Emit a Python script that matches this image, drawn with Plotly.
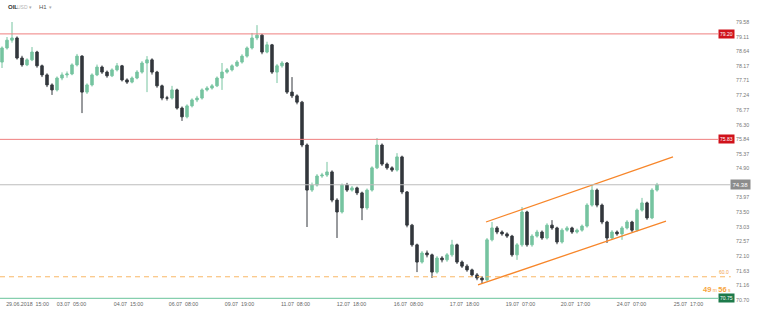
import plotly.graph_objects as go

# ---- data ----
first_open = 78.30
closes = [78.75, 79.00, 79.07, 78.43, 78.21, 78.37, 78.62, 78.18, 77.89, 77.57,
          77.41, 77.79, 77.89, 77.92, 78.21, 78.49, 77.34, 77.57, 77.89, 78.14,
          77.98, 77.86, 78.05, 78.18, 77.73, 77.66, 77.79, 77.98, 78.27, 78.37,
          77.98, 77.54, 77.15, 77.15, 77.41, 76.83, 76.55, 76.90, 77.09, 77.15,
          77.41, 77.47, 77.54, 77.79, 77.98, 78.05, 78.18, 78.30, 78.49, 78.75,
          79.07, 79.16, 78.62, 78.85, 77.98, 78.18, 78.27, 77.34, 77.22, 77.02,
          75.65, 74.21, 74.37, 74.66, 74.69, 74.79, 73.89, 73.51, 74.37, 74.21,
          74.28, 74.12, 73.64, 74.21, 74.92, 75.65, 75.04, 74.92, 74.85, 75.27,
          74.15, 73.09, 72.46, 71.91, 72.20, 72.14, 71.59, 72.04, 71.98, 72.14,
          72.46, 71.91, 71.78, 71.66, 71.50, 71.40, 71.34, 72.62, 73.00, 72.87,
          72.81, 72.74, 72.14, 72.46, 73.51, 72.46, 72.74, 72.87, 72.68, 73.09,
          73.00, 72.55, 72.93, 73.00, 72.87, 72.93, 73.06, 73.73, 74.21, 73.73,
          73.19, 72.68, 72.87, 72.81, 73.00, 73.19, 72.93, 73.57, 73.80, 73.32,
          74.21, 74.38]
highs = [78.80, 79.10, 79.58, 79.12, 78.50, 78.42, 78.78, 78.66, 78.22, 77.94,
         77.62, 77.84, 77.97, 78.00, 78.26, 78.56, 78.52, 77.62, 77.94, 78.22,
         78.19, 78.03, 78.10, 78.27, 78.21, 77.78, 77.84, 78.04, 78.33, 78.49,
         78.42, 78.02, 77.58, 77.22, 77.54, 77.45, 76.88, 76.95, 77.14, 77.22,
         77.46, 77.53, 77.60, 77.84, 78.27, 78.11, 78.23, 78.36, 78.55, 78.80,
         79.23, 79.48, 79.20, 78.95, 78.88, 78.24, 78.33, 78.30, 77.82, 77.27,
         77.06, 75.70, 74.45, 74.72, 74.76, 75.11, 74.84, 73.95, 74.42, 74.44,
         74.34, 74.32, 74.16, 74.26, 74.97, 75.87, 75.70, 75.09, 74.97, 75.39,
         75.31, 74.18, 73.13, 72.50, 72.26, 72.28, 72.18, 72.10, 72.10, 72.20,
         72.62, 72.50, 71.96, 71.84, 71.70, 71.56, 71.46, 72.68, 73.19, 73.06,
         72.92, 72.86, 72.78, 72.52, 73.67, 73.55, 72.80, 72.94, 72.92, 73.15,
         73.25, 73.04, 72.99, 73.06, 73.04, 72.98, 73.11, 73.79, 74.37, 74.26,
         73.78, 73.23, 72.93, 72.92, 73.06, 73.25, 73.23, 73.62, 73.96, 73.84,
         74.27, 74.44]
lows = [78.11, 78.70, 78.92, 78.38, 78.15, 78.17, 78.33, 78.12, 77.82, 77.50,
        77.25, 77.36, 77.72, 77.80, 77.88, 78.16, 76.67, 77.28, 77.52, 77.85,
        77.92, 77.80, 77.82, 78.00, 77.68, 77.60, 77.62, 77.75, 77.93, 77.34,
        77.90, 77.48, 77.08, 77.07, 77.10, 76.78, 76.42, 76.50, 76.85, 77.02,
        77.10, 77.36, 77.42, 77.50, 77.41, 77.93, 78.00, 78.14, 78.25, 78.44,
        78.70, 79.00, 78.55, 78.58, 77.92, 77.63, 78.12, 77.28, 77.15, 76.95,
        75.58, 73.03, 74.15, 74.32, 74.60, 74.63, 73.82, 72.68, 73.46, 74.15,
        74.16, 74.05, 73.25, 73.58, 74.16, 74.88, 74.98, 74.86, 74.79, 74.80,
        74.08, 73.02, 72.40, 71.59, 71.86, 72.06, 71.40, 71.54, 71.90, 71.92,
        72.08, 71.85, 71.72, 71.60, 71.44, 71.33, 71.21, 71.30, 72.57, 72.80,
        72.75, 72.68, 72.08, 71.98, 72.40, 72.40, 72.40, 72.69, 72.62, 72.63,
        72.94, 72.48, 72.50, 72.88, 72.81, 72.82, 72.88, 73.01, 73.68, 73.66,
        73.12, 72.52, 72.63, 72.75, 72.62, 72.95, 72.87, 72.88, 73.52, 73.26,
        73.28, 74.16]

tick_pos = [5.1, 13.9, 25.3, 36.3, 47.5, 58.7, 69.9, 81.3, 92.5, 103.7, 114.7, 125.9, 137.3]
tick_labels = ["29.06.2018  15:00", "03.07  05:00", "04.07  15:00", "06.07  08:00",
               "09.07  19:00", "11.07  08:00", "12.07  18:00", "16.07  08:00",
               "17.07  18:00", "19.07  07:00", "20.07  17:00", "24.07  07:00",
               "25.07  17:00"]
price_ticks = [79.58, 79.11, 78.64, 78.17, 77.71, 77.24, 76.77, 76.30, 75.84, 75.37,
               74.90, 74.44, 73.97, 73.50, 73.03, 72.57, 72.10, 71.63, 71.16, 70.70]

resistance_levels = [79.20, 75.83]
current_price = 74.38
fib_level = 71.44
bottom_level = 70.75
upper_channel_x = [96.8, 134.2]
upper_channel_y = [73.19, 75.27]
lower_channel_x = [95.2, 132.8]
lower_channel_y = [71.18, 73.22]

# ---- build ----
opens = [first_open] + closes[:-1]
xs = list(range(len(closes)))

FONT = "Liberation Sans, Arial, sans-serif"
fig = go.Figure()

fig.add_trace(go.Candlestick(
    x=xs, open=opens, high=highs, low=lows, close=closes,
    increasing=dict(line=dict(color="#76c4a0", width=1), fillcolor="#76c4a0"),
    decreasing=dict(line=dict(color="#32373c", width=1), fillcolor="#32373c"),
    whiskerwidth=0, showlegend=False, hoverinfo="skip"))

for cx, cy in [(upper_channel_x, upper_channel_y), (lower_channel_x, lower_channel_y)]:
    fig.add_trace(go.Scatter(x=cx, y=cy, mode="lines",
                             line=dict(color="#f7862a", width=1.3),
                             showlegend=False, hoverinfo="skip"))

shapes = []
annotations = []
for lvl in resistance_levels:
    shapes.append(dict(type="line", xref="paper", yref="y", x0=0, x1=0.9795,
                       y0=lvl, y1=lvl, line=dict(color="#ef7f7f", width=1)))
    annotations.append(dict(xref="paper", yref="y", x=0.9795, y=lvl, xanchor="left",
                            yanchor="middle", text=f"{lvl:.2f}", showarrow=False,
                            font=dict(family=FONT, size=5, color="white"),
                            bgcolor="#d0121b", borderpad=1))
# current price
shapes.append(dict(type="line", xref="paper", yref="y", x0=0, x1=0.996,
                   y0=current_price, y1=current_price, line=dict(color="#bdbdbd", width=1)))
annotations.append(dict(xref="paper", yref="y", x=0.996, y=current_price, xanchor="left",
                        yanchor="middle", text=f"{current_price:.2f}", showarrow=False,
                        font=dict(family=FONT, size=6, color="white"),
                        bgcolor="#8c8c8c", borderpad=1.5))
# fib dashed
shapes.append(dict(type="line", xref="paper", yref="y", x0=0, x1=0.997,
                   y0=fib_level, y1=fib_level,
                   line=dict(color="#f9b766", width=1, dash="5px,4px")))
annotations.append(dict(xref="paper", yref="y", x=0.997, y=fib_level, xanchor="right",
                        yanchor="bottom", text="60.0", showarrow=False,
                        font=dict(family=FONT, size=5, color="#f2a34a")))
# bottom green line
shapes.append(dict(type="line", xref="paper", yref="y", x0=0, x1=0.9795,
                   y0=bottom_level, y1=bottom_level, line=dict(color="#86cfae", width=1.2)))
annotations.append(dict(xref="paper", yref="y", x=0.9795, y=bottom_level, xanchor="left",
                        yanchor="middle", text=f"{bottom_level:.2f}", showarrow=False,
                        font=dict(family=FONT, size=5, color="white"),
                        bgcolor="#1d7a4a", borderpad=1))
annotations.append(dict(xref="paper", yref="y", x=1.0, y=bottom_level + 0.07,
                        xanchor="right", yanchor="bottom",
                        text="<b>49</b><span style='font-size:5px'> m </span><b>56</b><span style='font-size:5px'> s</span>",
                        showarrow=False, font=dict(family=FONT, size=7.5, color="#f7a43c")))
# header
annotations += [
    dict(xref="paper", yref="paper", x=0.0085, y=0.977, xanchor="left", yanchor="middle",
         text="<b>OIL</b>", showarrow=False, font=dict(family=FONT, size=6, color="#333")),
    dict(xref="paper", yref="paper", x=0.021, y=0.977, xanchor="left", yanchor="middle",
         text="USD", showarrow=False, font=dict(family=FONT, size=5, color="#b5b5b5")),
    dict(xref="paper", yref="paper", x=0.037, y=0.977, xanchor="left", yanchor="middle",
         text="▾", showarrow=False, font=dict(family=FONT, size=5, color="#aaa")),
    dict(xref="paper", yref="paper", x=0.050, y=0.977, xanchor="left", yanchor="middle",
         text="H1", showarrow=False, font=dict(family=FONT, size=6, color="#555")),
    dict(xref="paper", yref="paper", x=0.064, y=0.977, xanchor="left", yanchor="middle",
         text="▾", showarrow=False, font=dict(family=FONT, size=5, color="#aaa")),
]

fig.update_layout(
    width=760, height=311,
    margin=dict(l=0, r=27, t=0, b=11),
    paper_bgcolor="white", plot_bgcolor="white",
    font=dict(family=FONT, size=5.3, color="#777"),
    shapes=shapes, annotations=annotations,
    xaxis=dict(range=[-0.4, 146.2], showgrid=False, zeroline=False, showline=False,
               tickmode="array", tickvals=tick_pos, ticktext=tick_labels,
               ticks="", tickfont=dict(size=5.3, color="#666"),
               rangeslider=dict(visible=False), fixedrange=True),
    yaxis=dict(range=[70.698, 80.283], side="right", showgrid=False, zeroline=False,
               showline=False, tickmode="array", tickvals=price_ticks,
               ticktext=[f"{v:.2f}" for v in price_ticks], ticks="",
               tickfont=dict(size=5.3, color="#777"), ticklabelstandoff=2,
               fixedrange=True),
)

fig.write_html("out.html")
